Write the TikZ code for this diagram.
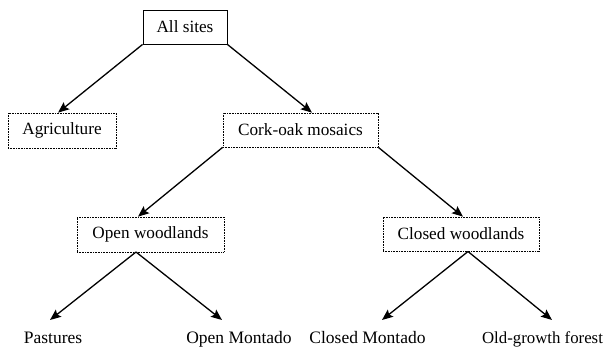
\documentclass[tikz,border=0pt]{standalone}
\usepackage{fontspec}
\setmainfont{Liberation Serif}
\newfontfamily\timesf{Liberation Serif}
\usetikzlibrary{arrows.meta}
\begin{document}
\begin{tikzpicture}[x=1pt,y=1pt,
  solidbox/.style={draw, line width=0.9pt, inner sep=0pt, font=\timesf\fontsize{17.2}{20}\selectfont},
  dotbox/.style={draw, line width=0.7pt, dash pattern=on 0.9pt off 0.7pt, inner sep=0pt, font=\timesf\fontsize{17.2}{20}\selectfont},
  leaf/.style={inner sep=0pt, anchor=base, font=\timesf\fontsize{17.5}{20}\selectfont},
  conn/.style={line width=1.3pt, -{Stealth[length=11pt,width=9pt,inset=2pt]}}]
\useasboundingbox (0,0) rectangle (614,-348);
\node[solidbox, minimum width=84pt, minimum height=34pt] (all) at (185,-27) {All sites};
\node[dotbox, minimum width=108pt, minimum height=35pt] (agri) at (62,-130.5) {Agriculture};
\node[dotbox, minimum width=155pt, minimum height=34pt] (cork) at (300.5,-130) {Cork-oak mosaics};
\node[dotbox, minimum width=147pt, minimum height=35pt] (open) at (150.5,-234.5) {Open woodlands};
\node[dotbox, minimum width=156pt, minimum height=34pt] (closed) at (461,-234) {Closed woodlands};
\node[leaf] (past) at (53,-343) {Pastures};
\node[leaf] (om) at (239,-343) {Open Montado};
\node[leaf] (cm) at (367.5,-343) {Closed Montado};
\node[leaf, font=\timesf\fontsize{16.8}{20}\selectfont] (og) at (542.5,-343) {Old-growth forest};
\coordinate (oapex) at (136,-252);
\coordinate (capex) at (468,-251.5);
\coordinate (tpast) at (50,-320);
\coordinate (tom) at (222,-320);
\coordinate (tcm) at (382,-320);
\coordinate (tog) at (552,-320);
\draw[conn] (all.south west) -- ([xshift=-4pt]agri.north);
\draw[conn] (all.south east) -- ([xshift=11.5pt]cork.north);
\draw[conn] (cork.south west) -- ([xshift=-12.5pt]open.north);
\draw[conn] (cork.south east) -- ([xshift=2pt]closed.north);
\draw[conn] (oapex) -- (tpast);
\draw[conn] (oapex) -- (tom);
\draw[conn] (capex) -- (tcm);
\draw[conn] (capex) -- (tog);
\end{tikzpicture}
\end{document}
